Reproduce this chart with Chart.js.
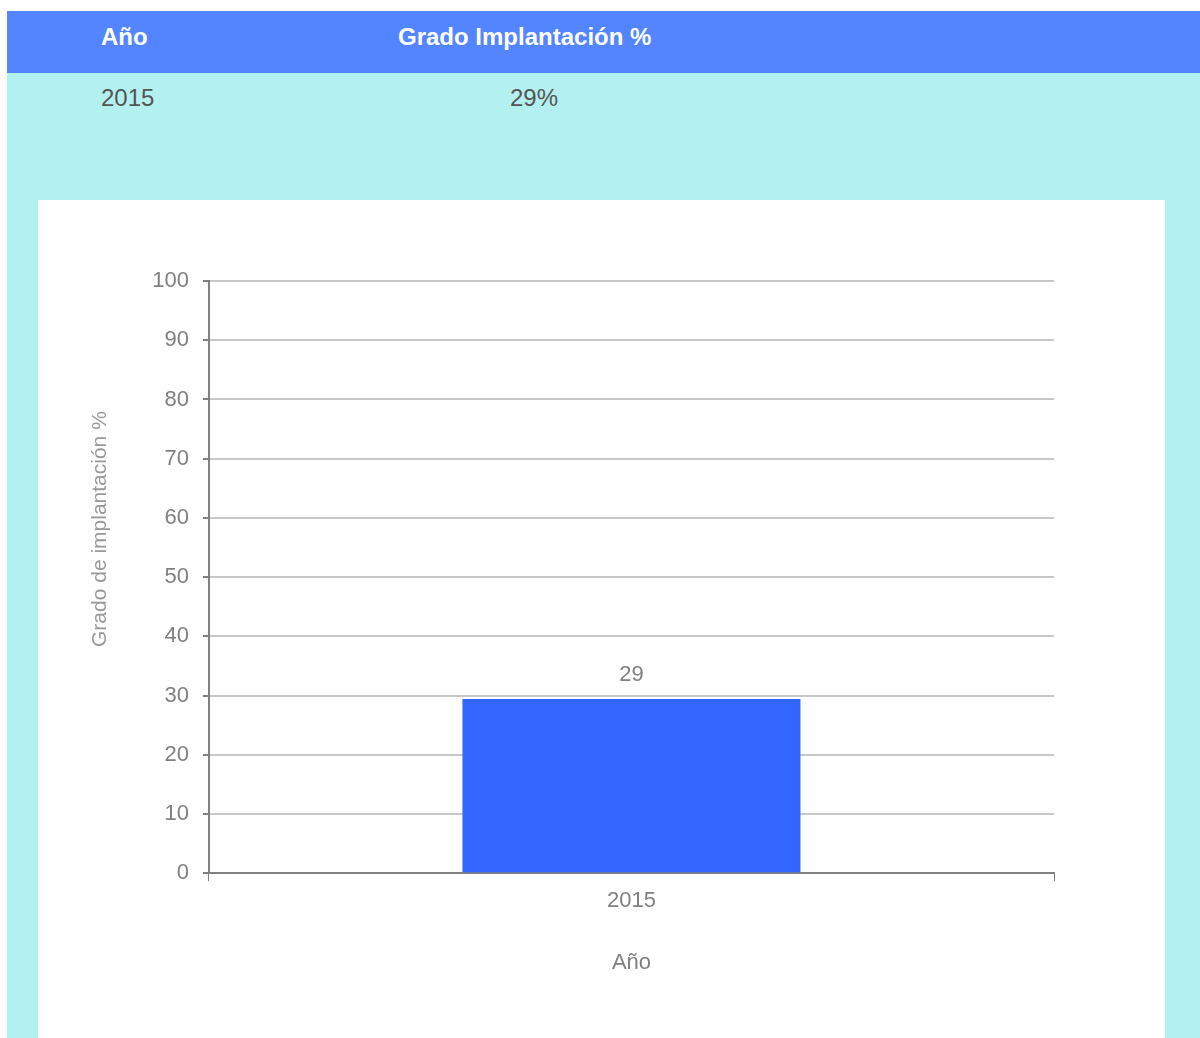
<!DOCTYPE html>
<html lang="es">
<head>
<meta charset="utf-8">
<title>Grado Implantación</title>
<script src="https://cdn.jsdelivr.net/npm/chart.js@4"></script>
<style>
  html, body { margin:0; padding:0; background:#fff; font-family:"Liberation Sans", Arial, sans-serif; }
  #wrap { position:absolute; left:7px; top:11px; width:1193px; height:1027px; background:#b3f1f1; }
  #head { height:62px; background:#5285ff; color:#fff; font-weight:bold; font-size:24px; position:relative; }
  #head span { position:absolute; top:26px; transform:translateY(-50%); }
  #row span { position:absolute; top:25px; transform:translateY(-50%); }
  #row { height:52px; position:relative; color:#555; font-size:24px; }
  #panel { position:absolute; left:31px; top:189px; width:1127px; height:838px; background:#fff; }
  #chart { position:absolute; left:0; top:0; }
</style>
</head>
<body>
<div id="wrap">
  <div id="head"><span style="left:94px">Año</span><span style="left:391px">Grado Implantación %</span></div>
  <div id="row"><span style="left:94px">2015</span><span style="left:503px">29%</span></div>
  <div id="panel"><canvas id="chart" width="1127" height="838"></canvas></div>
</div>
<script>
  // datos
  const years = ["2015"];
  const grado = [29.4];
  const yTicks = [0, 10, 20, 30, 40, 50, 60, 70, 80, 90, 100];
  const yTitle = "Grado de implantación %";

  const gray = "#808080";
  const font = '"Liberation Sans", Arial, sans-serif';

  // etiqueta encima de cada barra + título del eje Y (algo por encima del centro, como en el original)
  const extras = {
    id: "extras",
    afterDatasetsDraw(chart){
      const ctx = chart.ctx;
      const area = chart.chartArea;
      ctx.save();
      ctx.fillStyle = gray;
      ctx.font = "22px " + font;
      ctx.textAlign = "center";
      ctx.textBaseline = "bottom";
      chart.getDatasetMeta(0).data.forEach((bar, i) => {
        ctx.fillText(Math.round(grado[i]), bar.x, bar.y - 13);
      });
      ctx.translate(area.left - 109, (area.top + area.bottom) / 2 - 48);
      ctx.rotate(-Math.PI / 2);
      ctx.fillStyle = "#999";
      ctx.font = "21px " + font;
      ctx.textBaseline = "middle";
      ctx.fillText(yTitle, 0, 0);
      ctx.restore();
    }
  };

  new Chart(document.getElementById("chart"), {
    type: "bar",
    data: {
      labels: years,
      datasets: [{ label: yTitle, data: grado, backgroundColor: "#3366ff", barPercentage: 0.4, categoryPercentage: 1 }]
    },
    options: {
      responsive: false,
      animation: false,
      layout: { padding: { left: 41, right: 111, top: 81, bottom: 58 } },
      plugins: { legend: { display: false }, tooltip: { enabled: false } },
      scales: {
        x: {
          grid: { drawOnChartArea: false, color: gray, tickLength: 8, offset: true },
          border: { color: gray, width: 2 },
          ticks: { color: gray, font: { size: 22, family: font }, padding: 7 },
          title: { display: true, text: "Año", color: gray, font: { size: 22, family: font }, padding: { top: 28 } }
        },
        y: {
          min: 0, max: 100,
          afterBuildTicks(axis){ axis.ticks = yTicks.map(v => ({ value: v })); },
          grid: { color: "#c8c8c8", lineWidth: 2, tickColor: gray, tickLength: 6 },
          border: { color: gray, width: 2 },
          ticks: { color: gray, font: { size: 22, family: font }, padding: 14 },
          title: { display: true, text: yTitle, color: "rgba(0,0,0,0)", font: { size: 21, family: font }, padding: { bottom: 30 } }
        }
      }
    },
    plugins: [extras]
  });
</script>
</body>
</html>
